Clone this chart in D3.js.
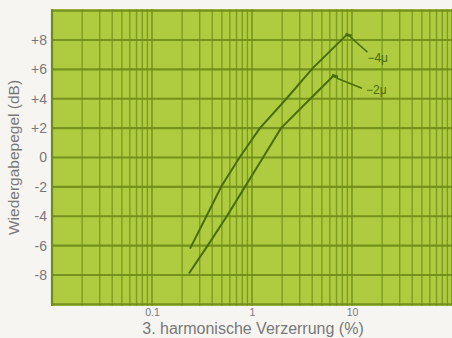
<!DOCTYPE html>
<html>
<head>
<meta charset="utf-8">
<script src="https://cdn.jsdelivr.net/npm/d3@7"></script>
<style>
  html, body { margin: 0; padding: 0; background: #f7f5f1; }
  svg { display: block; }
  text { font-family: "Liberation Sans", Arial, sans-serif; }
</style>
</head>
<body>
<svg id="chart" width="452" height="338"></svg>
<script>
// ---- data ----
const xTickValues = [0.1, 1, 10];
const xTickLabels = ["0.1", "1", "10"];
const yTickValues = [8, 6, 4, 2, 0, -2, -4, -6, -8];
const yTickLabels = ["+8", "+6", "+4", "+2", "0", "-2", "-4", "-6", "-8"];
const seriesNames = ["\u22124\u03bc", "\u22122\u03bc"];
const upperDistortion = [0.24, 0.35, 0.50, 0.75, 1.2, 2.24, 4.07, 9.0];
const upperLevel      = [-6.2, -4.0, -1.9, 0.0, 2.0, 4.05, 6.1, 8.4];
const lowerDistortion = [0.234, 0.36, 0.56, 0.85, 1.29, 1.95, 3.9, 6.6];
const lowerLevel      = [-7.9, -6.0, -4.0, -2.0, 0.0, 2.0, 4.05, 5.6];
const xLabel = "3. harmonische Verzerrung (%)";
const yLabel = "Wiedergabepegel (dB)";

// ---- layout ----
const svg = d3.select("#chart");
const plotL = 52, plotR = 452, plotT = 10.6, plotB = 304.4;
const x = d3.scaleLog().domain([0.01, 100]).range([plotL, plotR]);
const y = d3.scaleLinear().domain([-10, 10]).range([plotB, plotT]);

const green = "#afcc40";
const gridCol = "#6e8c18";
const curveCol = "#4a6c0c";
const textCol = "#77787a";

// background
svg.append("rect")
  .attr("x", plotL).attr("y", y(10.1))
  .attr("width", plotR - plotL).attr("height", y(-10.1) - y(10.1))
  .attr("fill", green);

// vertical log grid
const vGrid = [];
[0.01, 0.1, 1, 10].forEach(d => { for (let k = 1; k <= 9; k++) vGrid.push(k * d); });
vGrid.push(100);
svg.append("g").selectAll("line").data(vGrid).enter().append("line")
  .attr("x1", d => x(d)).attr("x2", d => x(d))
  .attr("y1", y(10.1)).attr("y2", y(-10.1))
  .attr("stroke", gridCol)
  .attr("stroke-opacity", 0.75)
  .attr("stroke-width", d => (Math.abs(Math.log10(d) - Math.round(Math.log10(d))) < 1e-6) ? 1.8 : 1.4);

// horizontal grid
const hGrid = d3.range(-10, 11, 2);
svg.append("g").selectAll("line").data(hGrid).enter().append("line")
  .attr("x1", plotL).attr("x2", plotR)
  .attr("y1", d => y(d)).attr("y2", d => y(d))
  .attr("stroke", gridCol)
  .attr("stroke-opacity", 0.9)
  .attr("stroke-width", 2.2);

// frame edge
svg.append("line").attr("x1", plotL).attr("x2", plotL)
  .attr("y1", y(10.1)).attr("y2", y(-10.1))
  .attr("stroke", gridCol).attr("stroke-width", 2.2);

// axes (text only)
const xAxis = d3.axisBottom(x).tickValues(xTickValues)
  .tickFormat((d, i) => xTickLabels[i]).tickSize(0).tickPadding(3);
const gx = svg.append("g").attr("transform", `translate(0,${y(-10.1)})`).call(xAxis);
gx.select(".domain").remove();
gx.selectAll("text").attr("fill", textCol).attr("font-size", 10.5)
  .attr("font-family", "Liberation Sans, Arial, sans-serif");

const yAxis = d3.axisLeft(y).tickValues(yTickValues)
  .tickFormat((d, i) => yTickLabels[i]).tickSize(0).tickPadding(5);
const gy = svg.append("g").attr("transform", `translate(${plotL},0)`).call(yAxis);
gy.select(".domain").remove();
gy.selectAll("text").attr("fill", textCol).attr("font-size", 14)
  .attr("font-family", "Liberation Sans, Arial, sans-serif");

// axis titles
svg.append("text")
  .attr("x", 253).attr("y", 334)
  .attr("text-anchor", "middle").attr("font-size", 16)
  .attr("fill", textCol).text(xLabel);
svg.append("text")
  .attr("transform", `translate(19,${y(0)}) rotate(-90)`)
  .attr("text-anchor", "middle").attr("font-size", 15.5)
  .attr("fill", textCol).text(yLabel);

// curves
const series = [
  { name: seriesNames[0], pts: upperDistortion.map((d, i) => [d, upperLevel[i]]) },
  { name: seriesNames[1], pts: lowerDistortion.map((d, i) => [d, lowerLevel[i]]) }
];
const line = d3.line().x(d => x(d[0])).y(d => y(d[1]));
svg.append("g").selectAll("path").data(series).enter().append("path")
  .attr("d", s => line(s.pts))
  .attr("fill", "none").attr("stroke", curveCol).attr("stroke-width", 2)
  .attr("stroke-linejoin", "round");

// end hooks, leader lines and labels
const ann = [
  { lx: 20, ly: 18, tx: 20, ty: 28 },
  { lx: 28, ly: 13, tx: 32, ty: 19 }
];
series.forEach((s, i) => {
  const e = s.pts[s.pts.length - 1];
  const ex = x(e[0]), ey = y(e[1]);
  const a = ann[i];
  svg.append("path")
    .attr("d", `M${ex - 2},${ey} L${ex + 4},${ey + 2}`)
    .attr("stroke", curveCol).attr("stroke-width", 3).attr("fill", "none");
  svg.append("line")
    .attr("x1", ex + 3).attr("y1", ey + 3)
    .attr("x2", ex + a.lx).attr("y2", ey + a.ly)
    .attr("stroke", curveCol).attr("stroke-width", 1.4);
  svg.append("text")
    .attr("x", ex + a.tx).attr("y", ey + a.ty)
    .attr("font-size", 12).attr("fill", curveCol)
    .text(s.name);
});
</script>
</body>
</html>
